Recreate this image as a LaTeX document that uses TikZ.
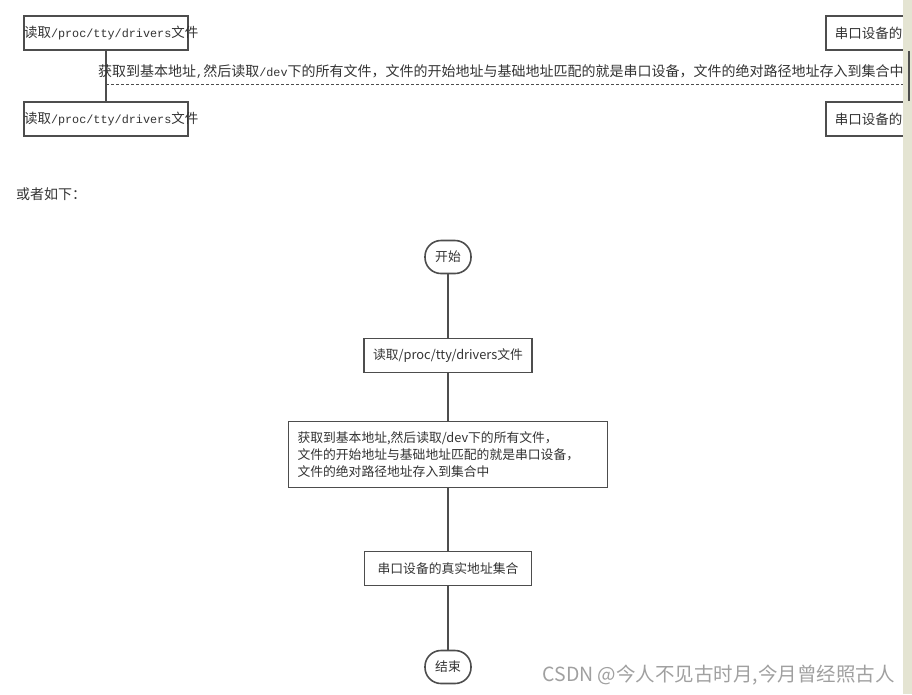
\documentclass[tikz,border=0pt]{standalone}
\usepackage{fontspec}
\setmainfont{Noto Sans CJK SC}
\setmonofont{Liberation Mono}
\usetikzlibrary{positioning}

\definecolor{linegray}{HTML}{4D4D4D}
\definecolor{textgray}{HTML}{333333}
\definecolor{stripbg}{HTML}{E4E4D2}
\definecolor{markgray}{HTML}{A0A0A0}

\newcommand{\monotxt}[1]{{\ttfamily\fontsize{11.8}{14}\selectfont #1}}

\begin{document}
\begin{tikzpicture}[x=1pt, y=-1pt,
    seqbox/.style={rectangle, draw=linegray, line width=1.6pt, fill=white, minimum height=34pt,
      text width=164pt, inner sep=0pt, align=center, text=textgray, font=\fontsize{13.5}{16}\selectfont},
    flowbox/.style={rectangle, draw=linegray, line width=1.6pt, minimum height=34pt, inner xsep=9pt,
      outer sep=0pt, text=textgray, font=\fontsize{12.8}{17}\selectfont},
    terminal/.style={flowbox, rounded corners=16pt, minimum width=46pt, minimum height=33pt, inner xsep=3pt},
    link/.style={draw=linegray, line width=1.6pt}
  ]
    \useasboundingbox (0,0) rectangle (912,694);
    \clip (0,0) rectangle (912,694);

    % sequence part
    \node[seqbox] (rdA) at (106,33) {读取\monotxt{/proc/tty/drivers}文件};
    \node[seqbox, below=50.4pt of rdA] (rdB) {读取\monotxt{/proc/tty/drivers}文件};
    \node[seqbox, text width=166pt] (setA) at (909,33) {串口设备的真实地址集合};
    \node[seqbox, text width=166pt, below=50.4pt of setA] (setB) {串口设备的真实地址集合};
    \draw[link] (rdA) -- (rdB);
    \coordinate (msgL) at (106,84);
    \coordinate (msgR) at (909,84);
    \draw[linegray, line width=1pt, dash pattern=on 3pt off 2pt] (msgL) -- (msgR);
    \node[anchor=west, inner sep=0pt, text=textgray, font=\fontsize{14}{16}\selectfont] (msg) at (98,72)
      {获取到基本地址\monotxt{,}然后读取\monotxt{/dev}下的所有文件，文件的开始地址与基础地址匹配的就是串口设备，文件的绝对路径地址存入到集合中。};

    \fill[stripbg] (903,0) rectangle (912,694);
    \draw[link] (setA) -- (setB);

    \node[anchor=west, inner sep=0pt, text=textgray, font=\fontsize{14}{16}\selectfont] (alt) at (16,194) {或者如下：};

    % flow chart
    \node[terminal] (start) at (448,257) {开始};
    \node[flowbox, minimum width=164pt, below=65pt of start] (read) {读取/proc/tty/drivers文件};
    \node[flowbox, text width=301pt, align=left, minimum height=66pt, below=49pt of read] (scan)
      {获取到基本地址,然后读取/dev下的所有文件，\\文件的开始地址与基础地址匹配的就是串口设备，\\文件的绝对路径地址存入到集合中};
    \node[flowbox, minimum width=167pt, below=64pt of scan] (result) {串口设备的真实地址集合};
    \node[terminal, below=65pt of result] (stop) {结束};
    \draw[link] (start) -- (read) -- (scan) -- (result) -- (stop);

    \node[anchor=east, inner sep=0pt, text=markgray, font=\fontsize{19.5}{21}\selectfont] (mark) at (895,675)
      {CSDN @今人不见古时月,今月曾经照古人};
  \end{tikzpicture}
\end{document}
